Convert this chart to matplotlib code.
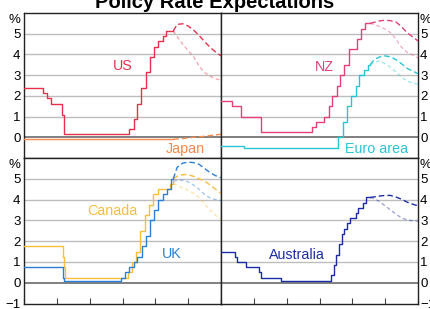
import matplotlib
matplotlib.use("Agg")
import matplotlib.pyplot as plt
import pandas as pd

plt.rcParams["font.family"] = ["Liberation Sans", "DejaVu Sans"]

# End of actual data, and dates of the market expectation paths
end_date = "2023-07-20"
exp_dates = ["2023-07-20", "2023-09-01", "2023-11-01", "2024-01-01", "2024-03-01",
             "2024-05-01", "2024-07-01", "2024-09-01", "2024-11-01", "2025-01-01"]

# Policy rate changes (date, new level)
us_dates = ["2019-01-01", "2019-08-01", "2019-09-19", "2019-10-31", "2020-03-04", "2020-03-16",
            "2022-03-17", "2022-05-05", "2022-06-16", "2022-07-28", "2022-09-22", "2022-11-03",
            "2022-12-15", "2023-02-02", "2023-03-23", "2023-05-04"]
us_rates = [2.4, 2.15, 1.9, 1.63, 1.1, 0.15, 0.38, 0.88, 1.63, 2.38, 3.13, 3.88, 4.38, 4.63, 4.88, 5.13]
us_exp = [5.13, 5.45, 5.48, 5.37, 5.18, 4.92, 4.62, 4.35, 4.12, 3.93]
us_exp_prev = [5.13, 4.85, 4.5, 4.18, 3.9, 3.45, 3.13, 2.95, 2.83, 2.75]

jp_dates = ["2019-01-01"]
jp_rates = [-0.1]
jp_exp = [-0.1, -0.08, -0.06, -0.03, 0.0, 0.02, 0.05, 0.08, 0.11, 0.15]

nz_dates = ["2019-01-01", "2019-05-08", "2019-08-07", "2020-03-16", "2021-10-06", "2021-11-24",
            "2022-02-23", "2022-04-13", "2022-05-25", "2022-07-13", "2022-08-17", "2022-10-05",
            "2022-11-23", "2023-02-22", "2023-04-05", "2023-05-24"]
nz_rates = [1.75, 1.5, 1.0, 0.25, 0.5, 0.75, 1.0, 1.5, 2.0, 2.5, 3.0, 3.5, 4.25, 4.75, 5.25, 5.5]
nz_exp = [5.5, 5.55, 5.62, 5.65, 5.63, 5.56, 5.35, 5.05, 4.85, 4.65]
nz_exp_prev = [5.5, 5.45, 5.35, 5.22, 5.05, 4.75, 4.35, 4.1, 3.98, 3.83]

ea_dates = ["2019-01-01", "2019-09-18", "2022-07-27", "2022-09-14", "2022-11-02", "2022-12-21",
            "2023-02-08", "2023-03-22", "2023-05-10", "2023-06-21"]
ea_rates = [-0.4, -0.5, 0.0, 0.75, 1.5, 2.0, 2.5, 3.0, 3.25, 3.5]
ea_exp = [3.5, 3.75, 3.88, 3.93, 3.88, 3.75, 3.55, 3.33, 3.2, 3.07]
ea_exp_prev = [3.5, 3.62, 3.68, 3.55, 3.38, 3.15, 2.9, 2.72, 2.62, 2.57]

ca_dates = ["2019-01-01", "2020-03-05", "2020-03-16", "2020-03-30", "2022-03-03", "2022-04-14",
            "2022-06-02", "2022-07-14", "2022-09-08", "2022-10-27", "2022-12-08", "2023-01-26",
            "2023-06-08", "2023-07-13"]
ca_rates = [1.75, 1.25, 0.75, 0.25, 0.5, 1.0, 1.5, 2.5, 3.25, 3.75, 4.25, 4.5, 4.75, 5.0]
ca_exp = [5.0, 5.12, 5.2, 5.2, 5.12, 5.0, 4.9, 4.7, 4.5, 4.3]
ca_exp_prev = [4.75, 4.7, 4.55, 4.45, 4.3, 4.1, 3.8, 3.5, 3.25, 3.05]

uk_dates = ["2019-01-01", "2020-03-11", "2020-03-19", "2021-12-16", "2022-02-03", "2022-03-17",
            "2022-05-05", "2022-06-16", "2022-08-04", "2022-09-22", "2022-11-03", "2022-12-15",
            "2023-02-02", "2023-03-23", "2023-05-11", "2023-06-22"]
uk_rates = [0.75, 0.25, 0.1, 0.25, 0.5, 0.75, 1.0, 1.25, 1.75, 2.25, 3.0, 3.5, 4.0, 4.25, 4.5, 5.0]
uk_exp = [5.0, 5.55, 5.75, 5.8, 5.78, 5.7, 5.5, 5.3, 5.15, 5.05]
uk_exp_prev = [4.9, 4.92, 4.93, 4.85, 4.7, 4.5, 4.25, 4.08, 4.0, 3.95]

au_dates = ["2019-01-01", "2019-06-05", "2019-07-03", "2019-10-02", "2020-03-04", "2020-03-20",
            "2020-11-04", "2022-05-04", "2022-06-08", "2022-07-06", "2022-08-03", "2022-09-07",
            "2022-10-05", "2022-11-02", "2022-12-07", "2023-02-08", "2023-03-08", "2023-05-03",
            "2023-06-07"]
au_rates = [1.5, 1.25, 1.0, 0.75, 0.5, 0.25, 0.1, 0.35, 0.85, 1.35, 1.85, 2.35, 2.6, 2.85, 3.1,
            3.35, 3.6, 3.85, 4.1]
au_exp = [4.1, 4.13, 4.17, 4.2, 4.2, 4.12, 4.02, 3.88, 3.78, 3.7]
au_exp_prev = [4.1, 4.05, 3.9, 3.7, 3.5, 3.3, 3.12, 3.02, 2.98, 2.97]

year_ticks = ["2019-01-01", "2020-01-01", "2021-01-01", "2022-01-01",
              "2023-01-01", "2024-01-01", "2025-01-01"]

W, H = 430, 309
fig = plt.figure(figsize=(W / 100, H / 100), dpi=100)

x0, xm, x1 = 24 / W, 221 / W, 418 / W
y_top, y_mid, y_bot = 1 - 13 / H, 1 - 158 / H, 1 - 303.5 / H

ax_tl = fig.add_axes([x0, y_mid, xm - x0, y_top - y_mid])
ax_tr = fig.add_axes([xm, y_mid, x1 - xm, y_top - y_mid], sharex=ax_tl)
ax_bl = fig.add_axes([x0, y_bot, xm - x0, y_mid - y_bot], sharex=ax_tl)
ax_br = fig.add_axes([xm, y_bot, x1 - xm, y_mid - y_bot], sharex=ax_tl)


def draw(ax, dates, rates, exp, exp_prev, color):
    d = pd.to_datetime(dates + [end_date])
    r = rates + [rates[-1]]
    ax.plot(d, r, color=color, lw=1.0, drawstyle="steps-post", zorder=5)
    ed = pd.to_datetime(exp_dates)
    if exp_prev is not None:
        ax.plot(ed, exp_prev, color=color, lw=0.9, alpha=0.45, dashes=(3, 2.2), zorder=4)
    ax.plot(ed, exp, color=color, lw=1.0, dashes=(4, 2.2), zorder=5)


c_us, c_jp, c_nz, c_ea = "#e8304c", "#f7894a", "#e4407c", "#2ac4d8"
c_ca, c_uk, c_au = "#fbbd3a", "#2a7fd6", "#1b2da6"

draw(ax_tl, jp_dates, jp_rates, jp_exp, None, c_jp)
draw(ax_tl, us_dates, us_rates, us_exp, us_exp_prev, c_us)
draw(ax_tr, ea_dates, ea_rates, ea_exp, ea_exp_prev, c_ea)
draw(ax_tr, nz_dates, nz_rates, nz_exp, nz_exp_prev, c_nz)
draw(ax_bl, ca_dates, ca_rates, ca_exp, ca_exp_prev, c_ca)
draw(ax_bl, uk_dates, uk_rates, uk_exp, uk_exp_prev, c_uk)
draw(ax_br, au_dates, au_rates, au_exp, au_exp_prev, c_au)

labels = [
    (ax_tl, "US", "2022-01-05", 3.43, c_us),
    (ax_tl, "Japan", "2023-12-01", -0.58, c_jp),
    (ax_tr, "NZ", "2022-03-01", 3.38, c_nz),
    (ax_tr, "Euro area", "2023-09-25", -0.56, c_ea),
    (ax_bl, "Canada", "2021-09-05", 3.44, c_ca),
    (ax_bl, "UK", "2023-07-05", 1.36, c_uk),
    (ax_br, "Australia", "2021-04-25", 1.35, c_au),
]
for ax, txt, d, y, col in labels:
    ax.text(pd.Timestamp(d), y, txt, color=col, fontsize=10.3, ha="center", va="center", zorder=6)

for ax in (ax_tl, ax_tr, ax_bl, ax_br):
    ax.set_ylim(-1, 6)
    ax.set_xlim(pd.Timestamp(year_ticks[0]), pd.Timestamp(year_ticks[-1]))
    for v in range(-1, 6):
        if v == 0:
            ax.axhline(v, color="#7f7f7f", lw=1.4, zorder=2)
        elif v > 0:
            ax.axhline(v, color="#bdbdbd", lw=1.0, zorder=1)
    for s in ax.spines.values():
        s.set_color("#222222")
        s.set_linewidth(1.0)
    ax.set_xticks(pd.to_datetime(year_ticks))
    ax.tick_params(axis="x", direction="in", length=4.2, width=0.8, color="#444444",
                   labelbottom=False)
    ax.tick_params(axis="y", length=0, labelsize=9.5, pad=2.5)

for ax in (ax_tl, ax_tr):
    ax.tick_params(axis="x", length=0)

ax_tl.set_yticks(range(0, 6))
ax_tr.set_yticks(range(0, 6))
ax_bl.set_yticks(range(-1, 6))
ax_br.set_yticks(range(-1, 6))
for ax in (ax_tr, ax_br):
    ax.yaxis.tick_right()
    ax.tick_params(axis="y", labelleft=False, labelright=True, length=0, pad=1.5)
for ax in (ax_tl, ax_bl):
    ax.tick_params(axis="y", labelleft=True, labelright=False)

# % unit labels
for ax, xpos, ha in ((ax_tl, -0.02, "right"), (ax_bl, -0.02, "right"),
                     (ax_tr, 1.01, "left"), (ax_br, 1.01, "left")):
    ax.text(xpos, 5.67, "%", transform=ax.get_yaxis_transform(), fontsize=9.5,
            ha=ha, va="center")

fig.text(0.5, 1 - 8 / H, "Policy Rate Expectations", fontsize=14.5, fontweight="bold",
         ha="center", va="baseline")

fig.savefig("out.png", dpi=100)
